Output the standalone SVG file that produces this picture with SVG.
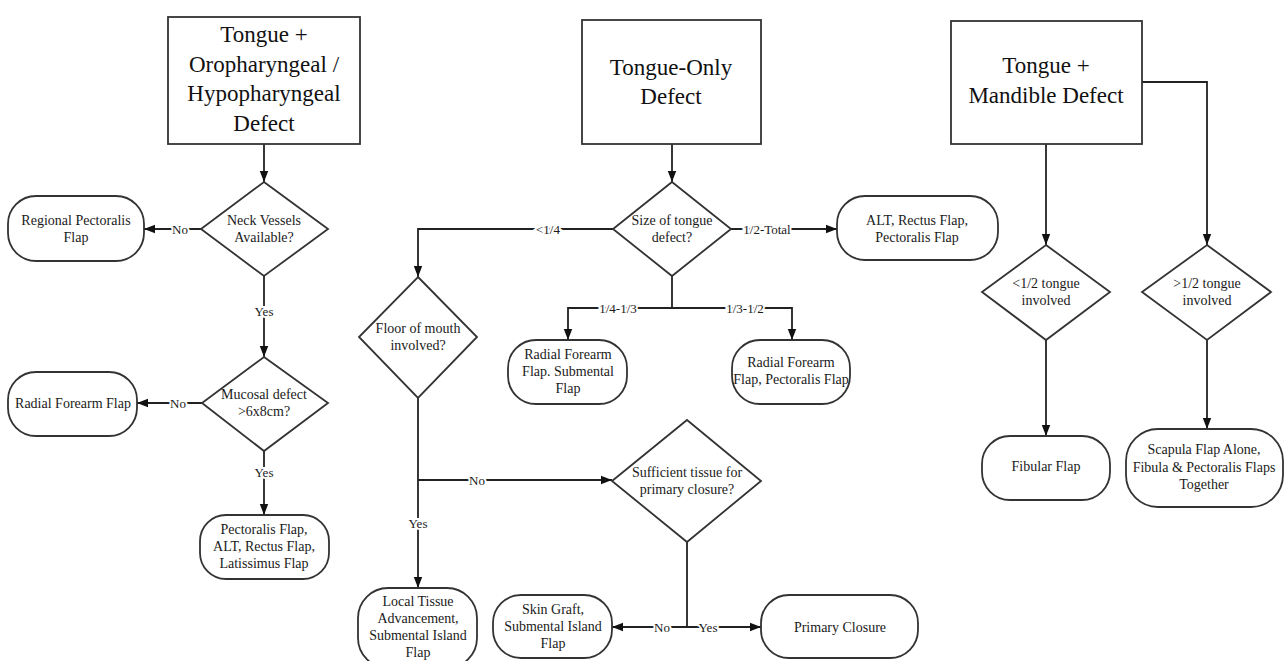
<svg xmlns="http://www.w3.org/2000/svg" width="1284" height="661" viewBox="0 0 1284 661">
<style>
.box{fill:#fff;stroke:#333;stroke-width:1.8}
.term{fill:#fff;stroke:#333;stroke-width:1.8}
.dia{fill:#fff;stroke:#333;stroke-width:1.8}
.title{font-family:"Liberation Serif",serif;font-size:23px;fill:#111;text-anchor:middle;dominant-baseline:central}
.t{font-family:"Liberation Serif",serif;font-size:14px;fill:#1a1a1a;text-anchor:middle;dominant-baseline:central}
.conn path{fill:none;stroke:#222;stroke-width:1.8}
.lbl{font-family:"Liberation Serif",serif;font-size:13px;fill:#1a1a1a;text-anchor:middle;dominant-baseline:central;stroke:#fff;stroke-width:4;paint-order:stroke}
</style>
<defs>
<marker id="ah" markerUnits="userSpaceOnUse" markerWidth="11" markerHeight="10" refX="11" refY="5" orient="auto">
<path d="M0,0.8 L11,5 L0,9.2 z" fill="#111"/>
</marker>
</defs>
<rect width="1284" height="661" fill="#fff"/>

<g id="connectors" class="conn">
<path d="M264,144 V182" marker-end="url(#ah)"/>
<path d="M201,229 H144" marker-end="url(#ah)"/>
<path d="M264,276 V357" marker-end="url(#ah)"/>
<path d="M202,403 H137" marker-end="url(#ah)"/>
<path d="M264,451 V515" marker-end="url(#ah)"/>
<path d="M672,144 V182" marker-end="url(#ah)"/>
<path d="M613,229 H418 V277" marker-end="url(#ah)"/>
<path d="M731,229 H837" marker-end="url(#ah)"/>
<path d="M672,276 V308"/>
<path d="M672,308 H568 V340" marker-end="url(#ah)"/>
<path d="M672,308 H792 V340" marker-end="url(#ah)"/>
<path d="M418,398 V588" marker-end="url(#ah)"/>
<path d="M418,480 H612" marker-end="url(#ah)"/>
<path d="M687,542 V627"/>
<path d="M687,627 H612" marker-end="url(#ah)"/>
<path d="M687,627 H761" marker-end="url(#ah)"/>
<path d="M1046,144 V245" marker-end="url(#ah)"/>
<path d="M1142,82 H1207 V245" marker-end="url(#ah)"/>
<path d="M1046,340 V436" marker-end="url(#ah)"/>
<path d="M1207,340 V429" marker-end="url(#ah)"/>
<text class="lbl" x="180" y="229">No</text>
<text class="lbl" x="264" y="311">Yes</text>
<text class="lbl" x="178" y="403">No</text>
<text class="lbl" x="264" y="472">Yes</text>
<text class="lbl" x="548" y="229">&lt;1/4</text>
<text class="lbl" x="767" y="229">1/2-Total</text>
<text class="lbl" x="618" y="308">1/4-1/3</text>
<text class="lbl" x="745" y="308">1/3-1/2</text>
<text class="lbl" x="418" y="523">Yes</text>
<text class="lbl" x="477" y="480">No</text>
<text class="lbl" x="662" y="627">No</text>
<text class="lbl" x="708" y="627">Yes</text>
</g>

<g id="n-oro">
<rect class="box" x="168" y="17" width="192" height="127"/>
<text class="title" x="264" y="34">Tongue +</text>
<text class="title" x="264" y="64">Oropharyngeal /</text>
<text class="title" x="264" y="93">Hypopharyngeal</text>
<text class="title" x="264" y="123">Defect</text>
</g>
<g id="n-neck">
<polygon class="dia" points="264,182 328,229 264,276 201,229"/>
<text class="t" x="264" y="220">Neck Vessels</text>
<text class="t" x="264" y="237">Available?</text>
</g>
<g id="n-regional">
<rect class="term" x="8" y="196" width="136" height="65" rx="28"/>
<text class="t" x="76" y="220">Regional Pectoralis</text>
<text class="t" x="76" y="237">Flap</text>
</g>
<g id="n-mucosal">
<polygon class="dia" points="264,357 328,403 264,451 202,403"/>
<text class="t" x="264" y="394">Mucosal defect</text>
<text class="t" x="264" y="411">&gt;6x8cm?</text>
</g>
<g id="n-radial1">
<rect class="term" x="8" y="372" width="129" height="64" rx="28"/>
<text class="t" x="73" y="403">Radial Forearm Flap</text>
</g>
<g id="n-pect">
<rect class="term" x="200" y="515" width="129" height="64" rx="26"/>
<text class="t" x="264" y="529">Pectoralis Flap,</text>
<text class="t" x="264" y="546">ALT, Rectus Flap,</text>
<text class="t" x="264" y="563">Latissimus Flap</text>
</g>

<g id="n-only">
<rect class="box" x="582" y="20" width="179" height="124"/>
<text class="title" x="671" y="67">Tongue-Only</text>
<text class="title" x="671" y="96">Defect</text>
</g>
<g id="n-size">
<polygon class="dia" points="672,182 731,229 672,276 613,229"/>
<text class="t" x="672" y="220">Size of tongue</text>
<text class="t" x="672" y="237">defect?</text>
</g>
<g id="n-alt">
<rect class="term" x="837" y="196" width="161" height="64" rx="28"/>
<text class="t" x="917" y="220">ALT, Rectus Flap,</text>
<text class="t" x="917" y="237">Pectoralis Flap</text>
</g>
<g id="n-floor">
<polygon class="dia" points="418,277 477,337 418,398 359,337"/>
<text class="t" x="418" y="328">Floor of mouth</text>
<text class="t" x="418" y="345">involved?</text>
</g>
<g id="n-radial2">
<rect class="term" x="508" y="340" width="119" height="64" rx="28"/>
<text class="t" x="568" y="354">Radial Forearm</text>
<text class="t" x="568" y="371">Flap. Submental</text>
<text class="t" x="568" y="388">Flap</text>
</g>
<g id="n-radial3">
<rect class="term" x="732" y="340" width="118" height="64" rx="28"/>
<text class="t" x="791" y="362">Radial Forearm</text>
<text class="t" x="791" y="379">Flap, Pectoralis Flap</text>
</g>
<g id="n-sufficient">
<polygon class="dia" points="687,420 761,481 687,542 612,481"/>
<text class="t" x="687" y="472">Sufficient tissue for</text>
<text class="t" x="687" y="489">primary closure?</text>
</g>
<g id="n-local">
<rect class="term" x="358" y="588" width="119" height="80" rx="30"/>
<text class="t" x="418" y="601">Local Tissue</text>
<text class="t" x="418" y="618">Advancement,</text>
<text class="t" x="418" y="635">Submental Island</text>
<text class="t" x="418" y="652">Flap</text>
</g>
<g id="n-skin">
<rect class="term" x="493" y="595" width="119" height="63" rx="28"/>
<text class="t" x="553" y="609">Skin Graft,</text>
<text class="t" x="553" y="626">Submental Island</text>
<text class="t" x="553" y="643">Flap</text>
</g>
<g id="n-primary">
<rect class="term" x="761" y="595" width="157" height="63" rx="28"/>
<text class="t" x="840" y="627">Primary Closure</text>
</g>

<g id="n-mand">
<rect class="box" x="951" y="21" width="191" height="123"/>
<text class="title" x="1046" y="65">Tongue +</text>
<text class="title" x="1046" y="95">Mandible Defect</text>
</g>
<g id="n-less">
<polygon class="dia" points="1046,245 1110,292 1046,340 982,292"/>
<text class="t" x="1046" y="283">&lt;1/2 tongue</text>
<text class="t" x="1046" y="300">involved</text>
</g>
<g id="n-more">
<polygon class="dia" points="1207,245 1271,292 1207,340 1142,292"/>
<text class="t" x="1207" y="283">&gt;1/2 tongue</text>
<text class="t" x="1207" y="300">involved</text>
</g>
<g id="n-fibular">
<rect class="term" x="982" y="436" width="128" height="64" rx="28"/>
<text class="t" x="1046" y="466">Fibular Flap</text>
</g>
<g id="n-scapula">
<rect class="term" x="1126" y="429" width="157" height="78" rx="32"/>
<text class="t" x="1204" y="449">Scapula Flap Alone,</text>
<text class="t" x="1204" y="467">Fibula &amp; Pectoralis Flaps</text>
<text class="t" x="1204" y="484">Together</text>
</g>
</svg>
